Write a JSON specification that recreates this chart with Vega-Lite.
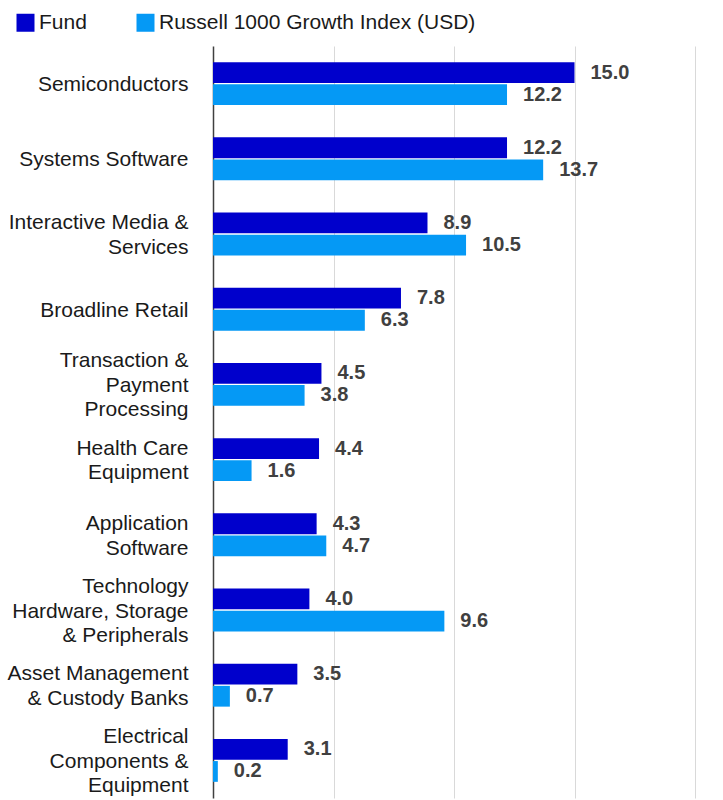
{
  "$schema": "https://vega.github.io/schema/vega-lite/v6.json",
  "width": 482,
  "height": 752,
  "autosize": {"type": "none"},
  "padding": {"left": 213, "top": 46, "right": 28, "bottom": 2},
  "config": {
    "view": {"stroke": null},
    "font": "Liberation Sans"
  },
  "data": {
    "values": [
      {"category": "Semiconductors", "series": "Fund", "value": 15.0},
      {"category": "Semiconductors", "series": "Russell 1000 Growth Index (USD)", "value": 12.2},
      {"category": "Systems Software", "series": "Fund", "value": 12.2},
      {"category": "Systems Software", "series": "Russell 1000 Growth Index (USD)", "value": 13.7},
      {"category": "Interactive Media &|Services", "series": "Fund", "value": 8.9},
      {"category": "Interactive Media &|Services", "series": "Russell 1000 Growth Index (USD)", "value": 10.5},
      {"category": "Broadline Retail", "series": "Fund", "value": 7.8},
      {"category": "Broadline Retail", "series": "Russell 1000 Growth Index (USD)", "value": 6.3},
      {"category": "Transaction &|Payment|Processing", "series": "Fund", "value": 4.5},
      {"category": "Transaction &|Payment|Processing", "series": "Russell 1000 Growth Index (USD)", "value": 3.8},
      {"category": "Health Care|Equipment", "series": "Fund", "value": 4.4},
      {"category": "Health Care|Equipment", "series": "Russell 1000 Growth Index (USD)", "value": 1.6},
      {"category": "Application|Software", "series": "Fund", "value": 4.3},
      {"category": "Application|Software", "series": "Russell 1000 Growth Index (USD)", "value": 4.7},
      {"category": "Technology|Hardware, Storage|& Peripherals", "series": "Fund", "value": 4.0},
      {"category": "Technology|Hardware, Storage|& Peripherals", "series": "Russell 1000 Growth Index (USD)", "value": 9.6},
      {"category": "Asset Management|& Custody Banks", "series": "Fund", "value": 3.5},
      {"category": "Asset Management|& Custody Banks", "series": "Russell 1000 Growth Index (USD)", "value": 0.7},
      {"category": "Electrical|Components &|Equipment", "series": "Fund", "value": 3.1},
      {"category": "Electrical|Components &|Equipment", "series": "Russell 1000 Growth Index (USD)", "value": 0.2}
    ]
  },
  "encoding": {
    "y": {
      "field": "category",
      "type": "nominal",
      "sort": ["Semiconductors", "Systems Software", "Interactive Media &|Services", "Broadline Retail", "Transaction &|Payment|Processing", "Health Care|Equipment", "Application|Software", "Technology|Hardware, Storage|& Peripherals", "Asset Management|& Custody Banks", "Electrical|Components &|Equipment"],
      "scale": {"paddingInner": 0.43, "paddingOuter": 0.215},
      "axis": {
        "title": null,
        "labelExpr": "split(datum.label, '|')",
        "labelFontSize": 21,
        "labelColor": "#1a1a1a",
        "labelLineHeight": 24.5,
        "labelPadding": 25,
        "labelLimit": 300,
        "ticks": false,
        "domainColor": "#404040",
        "domainWidth": 1.5,
        "grid": false,
        "labelOffset": {
          "condition": [
            {"test": "length(split(datum.value, '|')) == 3", "value": -23},
            {"test": "length(split(datum.value, '|')) == 2", "value": -10.75}
          ],
          "value": 1.5
        }
      }
    },
    "yOffset": {
      "field": "series",
      "type": "nominal",
      "sort": ["Fund", "Russell 1000 Growth Index (USD)"],
      "scale": {"paddingInner": 0.06}
    },
    "x": {
      "field": "value",
      "type": "quantitative",
      "scale": {"domain": [0, 20]},
      "axis": {
        "title": null,
        "labels": false,
        "ticks": false,
        "domain": false,
        "values": [5, 10, 15, 20],
        "grid": true,
        "gridColor": "#d9d9d9",
        "gridWidth": 1
      }
    }
  },
  "layer": [
    {
      "mark": {"type": "bar"},
      "encoding": {
        "color": {
          "field": "series",
          "type": "nominal",
          "sort": ["Fund", "Russell 1000 Growth Index (USD)"],
          "scale": {"domain": ["Fund", "Russell 1000 Growth Index (USD)"], "range": ["#0000CC", "#0599F5"]},
          "legend": {
            "title": null,
            "orient": "none",
            "legendX": -198,
            "legendY": -34,
            "direction": "horizontal",
            "symbolType": "square",
            "symbolSize": 324,
            "symbolStrokeWidth": 0,
            "labelFontSize": 21,
            "labelColor": "#1a1a1a",
            "labelOffset": 3,
            "columnPadding": 48,
            "labelLimit": 400
          }
        }
      }
    },
    {
      "mark": {"type": "text", "align": "left", "baseline": "middle", "dx": 16, "fontSize": 20, "fontWeight": "bold", "color": "#404040"},
      "encoding": {
        "text": {"field": "value", "type": "quantitative", "format": ".1f"}
      }
    }
  ]
}
